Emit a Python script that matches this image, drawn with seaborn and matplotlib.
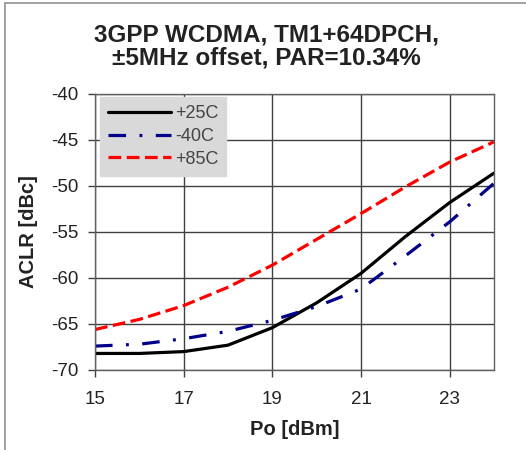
import matplotlib
matplotlib.use("Agg")
import matplotlib.pyplot as plt
import seaborn as sns
import pandas as pd
from matplotlib.lines import Line2D

po = [15, 16, 17, 18, 19, 20, 21, 22, 23, 24]
aclr_25c = [-68.2, -68.2, -68.0, -67.3, -65.4, -62.7, -59.5, -55.5, -51.8, -48.6]
aclr_m40c = [-67.4, -67.2, -66.6, -65.8, -64.6, -63.1, -61.2, -57.6, -53.9, -49.7]
aclr_85c = [-65.6, -64.5, -63.0, -61.0, -58.6, -55.8, -53.0, -50.1, -47.4, -45.2]
labels = ["+25C", "-40C", "+85C"]

sns.set_theme(style="white")
plt.rcParams['font.family'] = ['Liberation Sans', 'DejaVu Sans']
plt.rcParams['axes.unicode_minus'] = False

fig = plt.figure(figsize=(5.26, 4.5), dpi=100)
ax = fig.add_axes([95/526, 1-370/450, (494-95)/526, (370-94)/450])

series = [aclr_25c, aclr_m40c, aclr_85c]
colors = ["#000000", "#00008B", "#FF0000"]
dashes = [None, (5.5, 4.2, 0.9, 4.2), (4.0, 1.7)]
for vals, lab, col, ds in zip(series, labels, colors, dashes):
    df = pd.DataFrame({"Po": po, "ACLR": vals})
    sns.lineplot(data=df, x="Po", y="ACLR", ax=ax, color=col, lw=2.3, label=lab)
    line = ax.get_lines()[-1]
    if ds is not None:
        line.set_dashes(ds)
        line.set_dash_capstyle("butt")

ax.set_xlim(15, 24)
ax.set_ylim(-70, -40)
ax.set_xticks([15, 17, 19, 21, 23])
ax.set_yticks([-70, -65, -60, -55, -50, -45, -40])
ax.grid(True, color="#404040", lw=1)
for s in ax.spines.values():
    s.set_color("#606060")
    s.set_linewidth(1)
ax.tick_params(axis="both", direction="out", length=5, width=1, color="#404040",
               labelsize=13.5, labelcolor="#222222", bottom=True, left=True)
ax.tick_params(axis="y", pad=7)
ax.tick_params(axis="x", pad=10)
ax.set_xlabel("Po [dBm]", fontsize=14.5, fontweight="bold", color="#222222", labelpad=9)
ax.set_ylabel("ACLR [dBc]", fontsize=14.5, fontweight="bold", color="#222222", labelpad=9)
fig.text(266/526, 1-46.5/450, "3GPP WCDMA, TM1+64DPCH,\n±5MHz offset, PAR=10.34%",
         ha="center", va="center", fontsize=17.5, fontweight="bold", color="#222222",
         linespacing=1.05)

leg = ax.legend(loc="upper left", bbox_to_anchor=(5/399, 1-3/276), frameon=True,
                fancybox=False, facecolor="#d9d9d9", edgecolor="#d9d9d9",
                framealpha=1, fontsize=13, handlelength=3.5, handletextpad=0.2,
                borderpad=0.45, labelspacing=0.32, borderaxespad=0)
for t in leg.get_texts():
    t.set_color("#444444")

fig.add_artist(Line2D([5/526, 5/526], [0, 1-3/450], color="#909090", lw=1.2))
fig.add_artist(Line2D([5/526, 1], [1-3/450, 1-3/450], color="#909090", lw=1.2))

fig.savefig("out.png", dpi=100)
